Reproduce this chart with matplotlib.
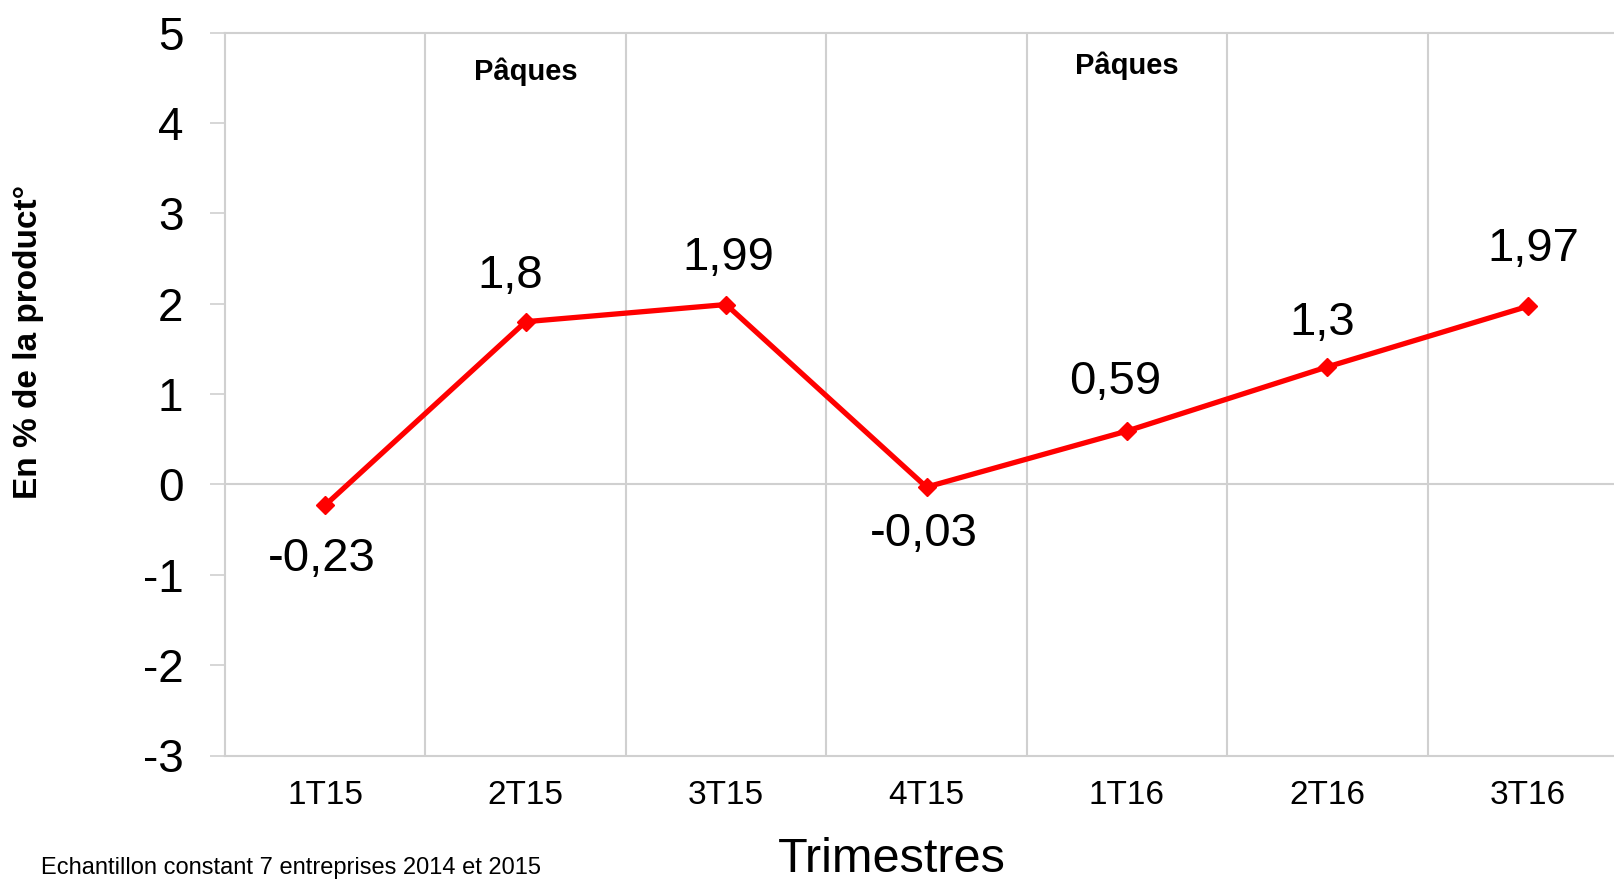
import numpy as np
import matplotlib.pyplot as plt

trimestres = ['1T15', '2T15', '3T15', '4T15', '1T16', '2T16', '3T16']
valeurs = [-0.23, 1.8, 1.99, -0.03, 0.59, 1.3, 1.97]
etiquettes = ['-0,23', '1,8', '1,99', '-0,03', '0,59', '1,3', '1,97']
paques = ['2T15', '1T16']

GRIS = '#d0d0d0'
ROUGE = '#ff0000'
W, H = 1614, 881

def main():
    plt.rcParams['font.family'] = ['Liberation Sans', 'DejaVu Sans']
    fig = plt.figure(figsize=(W / 100, H / 100), dpi=100)
    # plot area runs past the right edge of the picture
    ax = fig.add_axes([225 / W, 125.5 / H, 1403 / W, 723 / H])

    x = np.arange(len(trimestres))
    ax.plot(x, valeurs, color=ROUGE, lw=3.8, marker='D', ms=9,
            mfc=ROUGE, mec=ROUGE, zorder=5)

    # labels: offset in pixels (x, y)
    decal = [(-3, -54), (-15, 46), (2, 47), (-3, -47), (-12, 49), (-5, 44), (6, 57)]
    for xi, v, t, d in zip(x, valeurs, etiquettes, decal):
        ax.annotate(t, (xi, v), xytext=d, textcoords='offset pixels',
                    ha='center', va='center', fontsize=34, color='black')

    paques_y = [4.57, 4.63]
    for p, py in zip(paques, paques_y):
        ax.text(trimestres.index(p), py, 'Pâques', ha='center', va='center',
                fontsize=21, fontweight='bold')

    ax.set_xlim(-0.5, len(trimestres) - 0.5)
    ax.set_ylim(-3, 5)
    ax.set_yticks(range(-3, 6))
    ax.set_yticklabels([str(v) for v in range(-3, 6)])
    ax.set_xticks(x)
    ax.set_xticklabels(trimestres)
    ax.set_xticks(np.arange(0.5, len(trimestres) - 1, 1.0), minor=True)
    ax.grid(True, axis='x', which='minor', color=GRIS, lw=1.5)
    ax.axhline(0, color=GRIS, lw=1.5, zorder=1)

    ax.tick_params(axis='y', direction='out', length=11, width=1.2, color=GRIS,
                   labelsize=33, pad=19)
    ax.tick_params(axis='x', which='major', length=0, labelsize=24, pad=18)
    ax.tick_params(axis='x', which='minor', length=0)

    for s in ['left', 'bottom', 'top']:
        ax.spines[s].set_color(GRIS)
        ax.spines[s].set_linewidth(1.5)
    ax.spines['right'].set_visible(False)

    fig.text(29 / W, 1 - 342 / H, 'En % de la product°', rotation=90,
             ha='center', va='center', fontsize=24, fontweight='bold')
    fig.text(892 / W, 1 - 860 / H, 'Trimestres', ha='center', va='center',
             fontsize=35)
    fig.text(41 / W, 2 / H, 'Echantillon constant 7 entreprises 2014 et 2015',
             ha='left', va='bottom', fontsize=17)

    fig.savefig('out.png', dpi=100)

if __name__ == '__main__':
    main()
